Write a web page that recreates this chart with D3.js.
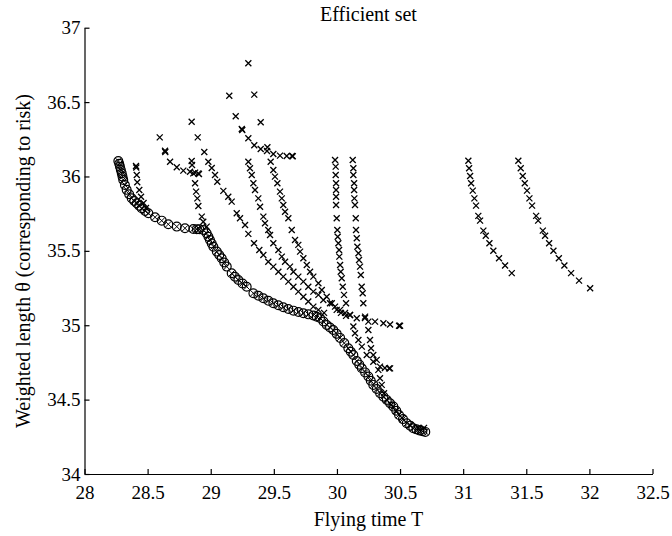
<!DOCTYPE html>
<html><head><meta charset="utf-8">
<script src="https://cdn.jsdelivr.net/npm/d3@7"></script>
<style>
html,body{margin:0;padding:0;background:#fff;}
svg{display:block;}
</style></head>
<body><svg id="chart" width="672" height="536"></svg>
<script>
const titleText = "Efficient set";
const xLabel = "Flying time T";
const yLabel = "Weighted length \u03B8 (corresponding to risk)";
const xTicks = [28, 28.5, 29, 29.5, 30, 30.5, 31, 31.5, 32, 32.5];
const yTicks = [34, 34.5, 35, 35.5, 36, 36.5, 37];

// efficient set (circle markers)
const efficientSet = [
[28.268,36.104],[28.275,36.085],[28.281,36.066],[28.288,36.044],[28.295,36.021],[28.301,35.999],[28.307,35.977],
[28.320,35.943],[28.334,35.910],[28.354,35.880],[28.374,35.853],[28.394,35.835],[28.414,35.820],[28.433,35.803],
[28.453,35.786],[28.480,35.768],[28.506,35.753],[28.559,35.726],[28.612,35.703],[28.664,35.679],[28.731,35.663],[28.796,35.652],
[28.862,35.647],[28.890,35.646],[28.910,35.645],[28.940,35.640],[28.968,35.618],[28.982,35.595],[28.994,35.573],[29.008,35.550],[29.021,35.528],
[29.048,35.495],[29.068,35.472],[29.087,35.450],[29.107,35.422],[29.127,35.394],[29.166,35.349],[29.192,35.326],[29.219,35.304],[29.252,35.281],[29.285,35.259],[29.338,35.215],
[29.378,35.198],[29.417,35.181],[29.457,35.164],[29.496,35.148],[29.536,35.134],[29.575,35.121],[29.615,35.109],[29.655,35.098],[29.695,35.089],[29.734,35.081],[29.774,35.073],[29.813,35.065],[29.840,35.057],
[29.866,35.049],[29.893,35.025],[29.919,35.002],[29.945,34.985],[29.971,34.968],[29.998,34.942],[30.025,34.915],[30.058,34.880],[30.090,34.845],
[30.110,34.822],[30.130,34.800],[30.157,34.760],[30.177,34.735],[30.197,34.711],[30.223,34.683],[30.249,34.655],[30.268,34.627],[30.288,34.599],[30.315,34.571],[30.342,34.543],
[30.368,34.520],[30.395,34.498],[30.421,34.475],[30.447,34.453],[30.470,34.425],[30.492,34.397],[30.523,34.369],[30.553,34.341],[30.580,34.325],[30.605,34.308],[30.630,34.300],[30.653,34.292],[30.677,34.287],[30.700,34.283]
];

// candidate solutions (cross markers), one array per curve
const seriesA = [[28.408,36.070],[28.410,36.060],[28.414,36.010],[28.418,35.961],[28.434,35.909],[28.448,35.864],[28.468,35.822],[28.487,35.788]];
const seriesB = [[28.596,36.263],[28.638,36.173],[28.640,36.165],[28.678,36.099],[28.731,36.062],[28.783,36.039],[28.836,36.032],[28.876,36.026],[28.902,36.021],[28.907,36.016]];
const seriesC = [[28.849,36.368],[28.849,36.104],[28.852,36.077],[28.862,36.021],[28.876,35.954],[28.884,35.898],[28.894,35.853],[28.902,35.802],[28.929,35.730],[28.941,35.696],[28.968,35.663]];
const seriesD = [[28.897,36.263],[28.949,36.165],[28.981,36.099],[29.008,36.057],[29.034,36.010],[29.052,35.965],[29.100,35.903],[29.139,35.864],[29.166,35.831],[29.206,35.753],[29.232,35.719],[29.272,35.674],[29.298,35.614],[29.343,35.551],[29.385,35.506],[29.417,35.472],[29.456,35.427],[29.496,35.394],[29.536,35.360],[29.575,35.327],[29.615,35.293],[29.655,35.259],[29.694,35.226],[29.734,35.192],[29.773,35.159],[29.813,35.125],[29.853,35.103],[29.898,35.083]];
const seriesE = [[29.298,36.099],[29.311,36.055],[29.325,36.010],[29.338,35.954],[29.351,35.909],[29.377,35.853],[29.391,35.797],[29.417,35.730],[29.430,35.686],[29.456,35.640],[29.470,35.607],[29.496,35.551],[29.536,35.506],[29.563,35.461],[29.589,35.427],[29.628,35.394],[29.655,35.360],[29.694,35.327],[29.734,35.293],[29.773,35.259],[29.813,35.226],[29.853,35.204],[29.892,35.170],[29.945,35.148],[29.985,35.125],[30.025,35.103],[30.064,35.083],[30.104,35.069],[30.157,35.047],[30.222,35.049],[30.302,35.024],[30.368,35.013],[30.421,35.005],[30.492,34.997],[30.500,34.997]];
const seriesF = [[29.475,36.099],[29.496,36.044],[29.509,35.999],[29.528,35.954],[29.549,35.898],[29.563,35.853],[29.575,35.808],[29.589,35.763],[29.615,35.719],[29.642,35.640],[29.668,35.573],[29.694,35.540],[29.708,35.495],[29.734,35.450],[29.761,35.405],[29.787,35.360],[29.813,35.327],[29.853,35.282],[29.880,35.237],[29.919,35.192],[29.959,35.148],[29.998,35.103],[30.032,35.083],[30.072,35.063]];
const seriesG1 = [[29.147,36.543],[29.198,36.405],[29.246,36.319],[29.250,36.312],[29.298,36.257],[29.345,36.210],[29.396,36.185],[29.446,36.171],[29.496,36.151],[29.549,36.140],[29.602,36.138],[29.644,36.138],[29.650,36.136]];
const seriesG2 = [[29.298,36.761],[29.345,36.550],[29.396,36.364],[29.449,36.196]];
const seriesH = [[29.985,36.111],[29.990,36.066],[29.990,36.010],[29.993,35.954],[29.993,35.909],[29.993,35.864],[29.993,35.808],[29.998,35.719],[30.003,35.640],[30.006,35.595],[30.011,35.551],[30.017,35.506],[30.019,35.461],[30.025,35.405],[30.030,35.360],[30.038,35.316],[30.046,35.259],[30.056,35.204],[30.072,35.148],[30.103,35.069],[30.130,34.991],[30.143,34.946],[30.170,34.901],[30.197,34.856],[30.236,34.800],[30.288,34.755],[30.341,34.722],[30.380,34.713],[30.413,34.710],[30.421,34.710]];
const seriesI = [[30.125,36.111],[30.130,36.055],[30.130,36.010],[30.136,35.954],[30.136,35.909],[30.138,35.853],[30.143,35.808],[30.149,35.719],[30.151,35.640],[30.157,35.585],[30.162,35.528],[30.170,35.484],[30.175,35.439],[30.183,35.394],[30.189,35.338],[30.196,35.259],[30.204,35.215],[30.209,35.148],[30.223,35.058],[30.249,35.024],[30.249,34.968],[30.262,34.901],[30.270,34.845],[30.288,34.800],[30.315,34.767],[30.328,34.700],[30.341,34.644],[30.355,34.599],[30.373,34.543],[30.395,34.498],[30.429,34.464],[30.468,34.424],[30.516,34.377],[30.578,34.330],[30.642,34.310],[30.690,34.310]];
const seriesJ = [[31.041,36.106],[31.047,36.055],[31.055,36.003],[31.063,35.954],[31.076,35.905],[31.089,35.853],[31.102,35.804],[31.120,35.735],[31.134,35.703],[31.160,35.636],[31.179,35.602],[31.208,35.551],[31.239,35.501],[31.284,35.450],[31.332,35.401],[31.385,35.350]];
const seriesK = [[31.437,36.106],[31.456,36.055],[31.472,36.003],[31.488,35.954],[31.506,35.905],[31.525,35.853],[31.546,35.804],[31.578,35.735],[31.594,35.703],[31.631,35.636],[31.649,35.602],[31.681,35.551],[31.715,35.501],[31.758,35.450],[31.802,35.401],[31.855,35.350],[31.918,35.300],[32.006,35.249]];

const crossSeries = [seriesA, seriesB, seriesC, seriesD, seriesE, seriesF, seriesG1, seriesG2, seriesH, seriesI, seriesJ, seriesK];

const FONT = "'Liberation Serif', 'Times New Roman', serif";

const W = 672, H = 536;
const margin = {left: 84.5, right: 672 - 652.5, top: 27.7, bottom: 536 - 474};
const svg = d3.select("#chart");
const x = d3.scaleLinear().domain([28, 32.5]).range([margin.left, W - margin.right]);
const y = d3.scaleLinear().domain([34, 37]).range([H - margin.bottom, margin.top]);

const gx = svg.append("g").attr("transform", `translate(0,${y(34)})`)
  .call(d3.axisBottom(x).tickValues(xTicks).tickFormat(d3.format("")).tickSizeInner(-5).tickSizeOuter(0).tickPadding(13));
const gy = svg.append("g").attr("transform", `translate(${x(28)},0)`)
  .call(d3.axisLeft(y).tickValues(yTicks).tickFormat(d3.format("")).tickSizeInner(-5).tickSizeOuter(0).tickPadding(4));
[gx, gy].forEach(g => {
  g.attr("font-family", null).attr("font-size", null);
  g.select(".domain").attr("stroke", "#000").attr("stroke-width", 1.2);
  g.selectAll(".tick line").attr("stroke", "#000").attr("stroke-width", 1.2);
  g.selectAll(".tick text").style("font-size", "19px").style("font-family", FONT).attr("fill", "#000");
});
gx.selectAll(".tick text").attr("dy", "0.71em").attr("y", 12);

const crossPath = "M-3,-3L3,3M3,-3L-3,3";
const markG = svg.append("g");
crossSeries.forEach(s => {
  markG.selectAll(null).data(s).join("path")
    .attr("transform", d => `translate(${x(d[0])},${y(d[1])})`)
    .attr("d", crossPath).attr("stroke", "#000").attr("stroke-width", 1.3).attr("fill", "none");
});
const eg = markG.selectAll(null).data(efficientSet).join("g")
  .attr("transform", d => `translate(${x(d[0])},${y(d[1])})`);
eg.append("circle").attr("r", 4.4).attr("fill", "none").attr("stroke", "#000").attr("stroke-width", 1.2);
eg.append("path").attr("d", "M-3,-3L3,3M3,-3L-3,3").attr("stroke", "#000").attr("stroke-width", 1);

svg.append("text").attr("x", (x(28) + x(32.5)) / 2).attr("y", 21).attr("text-anchor", "middle")
  .style("font-family", FONT).style("font-size", "20px").text(titleText);
svg.append("text").attr("x", (x(28) + x(32.5)) / 2).attr("y", 526).attr("text-anchor", "middle")
  .style("font-family", FONT).style("font-size", "20px").text(xLabel);
svg.append("text").attr("transform", "translate(30,261) rotate(-90)").attr("text-anchor", "middle")
  .style("font-family", FONT).style("font-size", "20px").text(yLabel);
</script></body></html>
